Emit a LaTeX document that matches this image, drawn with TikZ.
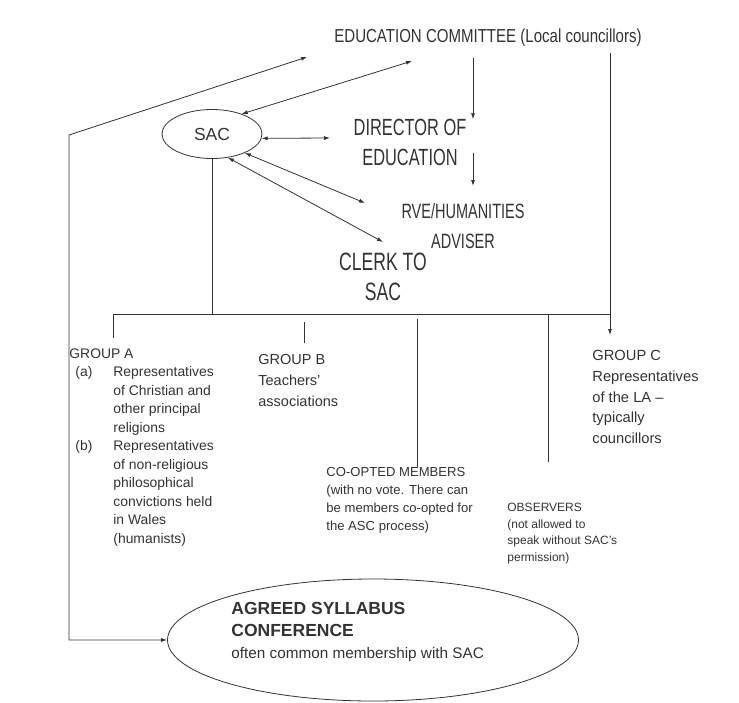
\documentclass[tikz,border=0pt]{standalone}
\usepackage{fontspec}
\setmainfont{Liberation Sans}
\newfontfamily\narrowfont[FakeStretch=0.8]{Liberation Sans}
\newfontfamily\tallfont[FakeStretch=0.7]{Liberation Sans}
\usetikzlibrary{arrows.meta,shapes.geometric}
\definecolor{ink}{HTML}{333333}
\tikzset{
  head/.style={font={\narrowfont\fontsize{#1}{30}\selectfont}, align=center, inner sep=0pt},
  tall/.style={font={\tallfont\fontsize{#1}{30}\selectfont}, align=center, inner sep=0pt},
  note/.style={anchor=north west, align=left, inner sep=0pt},
  tip/.style={-{Latex[length=6pt,width=4pt]}},
  both/.style={{Latex[length=6pt,width=4pt]}-{Latex[length=6pt,width=4pt]}},
}
\begin{document}
\begin{tikzpicture}[x=1pt,y=-1pt,line width=0.8pt,color=ink]
  \useasboundingbox (0,0) rectangle (739,702);
  % heads
  \node[head=18.8] (ec) at (488,38) {EDUCATION COMMITTEE (Local councillors)};
  \node[draw,ellipse,minimum width=100pt,minimum height=49pt,inner sep=0pt,
    font=\fontsize{17.5}{20}\selectfont] (sac) at (212,134) {SAC};
  \node[tall=23.4] (dir) at (410,142) {DIRECTOR OF\\EDUCATION};
  \node[tall=20.7] (rve) at (463,226) {RVE/HUMANITIES\\ADVISER};
  \node[tall=25.1] (clerk) at (383,277) {CLERK TO\\SAC};
  % members
  \node[note,font=\fontsize{13.9}{18.5}\selectfont] (grpA) at (69,348) {GROUP A\\
    \makebox[44pt][l]{\hspace{6pt}(a)}Representatives\\
    \hspace*{44pt}of Christian and\\
    \hspace*{44pt}other principal\\
    \hspace*{44pt}religions\\
    \makebox[44pt][l]{\hspace{6pt}(b)}Representatives\\
    \hspace*{44pt}of non-religious\\
    \hspace*{44pt}philosophical\\
    \hspace*{44pt}convictions held\\
    \hspace*{44pt}in Wales\\
    \hspace*{44pt}(humanists)};
  \node[note,font=\fontsize{14.5}{21}\selectfont] (grpB) at (258,354) {GROUP B\\Teachers'\\associations};
  \node[note,font=\fontsize{14.7}{20.7}\selectfont] (grpC) at (592,350) {GROUP C\\Representatives\\of the LA –\\typically\\councillors};
  \node[note,font=\fontsize{13.1}{18}\selectfont] (coopt) at (326,467) {CO-OPTED MEMBERS\\(with no vote. There can\\be members co-opted for\\the ASC process)};
  \node[note,font=\fontsize{12}{16.5}\selectfont] (obs) at (507,503) {OBSERVERS\\(not allowed to\\speak without SAC’s\\permission)};
  \node[draw,ellipse,minimum width=411pt,minimum height=122pt] (asc) at (373,640) {};
  \node[note,font=\fontsize{17.5}{22}\selectfont] (ascText) at (231,602) {\textbf{AGREED SYLLABUS}\\
    \textbf{CONFERENCE}\\{\fontsize{15.3}{22}\selectfont often common membership with SAC}};
  % free ends
  \coordinate (ecA) at (307,57);
  \coordinate (ecB) at (412,61);
  \coordinate (ecC) at (473,58);
  \coordinate (ecD) at (610,53);
  \coordinate (bend) at (69,135);
  \coordinate (dirW) at (330,138);
  \coordinate (dirOut) at (473,153);
  \coordinate (rveNW) at (365,203);
  \coordinate (clerkN) at (383,242);
  \coordinate (busL) at (113,314);
  \coordinate (busR) at (610,314);
  \coordinate (tickB) at (304,322);
  \coordinate (tickCo) at (417,319);
  \coordinate (tickObs) at (548,314);
  % links
  \draw[both] (ecA) -- (bend) |- (asc.west);
  \draw[both] (sac.34) -- (ecB);
  \draw[both] (sac.-5) -- (dirW);
  \draw[both] (sac.-30) -- (rveNW);
  \draw[both] (sac.-56) -- (clerkN);
  \draw[tip] (ecC) -- ([yshift=-1pt]ecC |- dir.north);
  \draw[tip] (dirOut) -- ([yshift=17pt]rve.north -| dirOut);
  \draw (sac.south) -- (sac.south |- busL);
  \draw ([yshift=10pt]grpA.north -| busL) -- (busL) -- (busR);
  \draw[tip] (ecD) -- ([yshift=15pt]grpC.north -| ecD);
  \draw (tickB) -- ([yshift=11pt]grpB.north -| tickB);
  \draw (tickCo) -- (tickCo |- coopt.north);
  \draw (tickObs) -- ([yshift=41pt]obs.north -| tickObs);
\end{tikzpicture}
\end{document}
